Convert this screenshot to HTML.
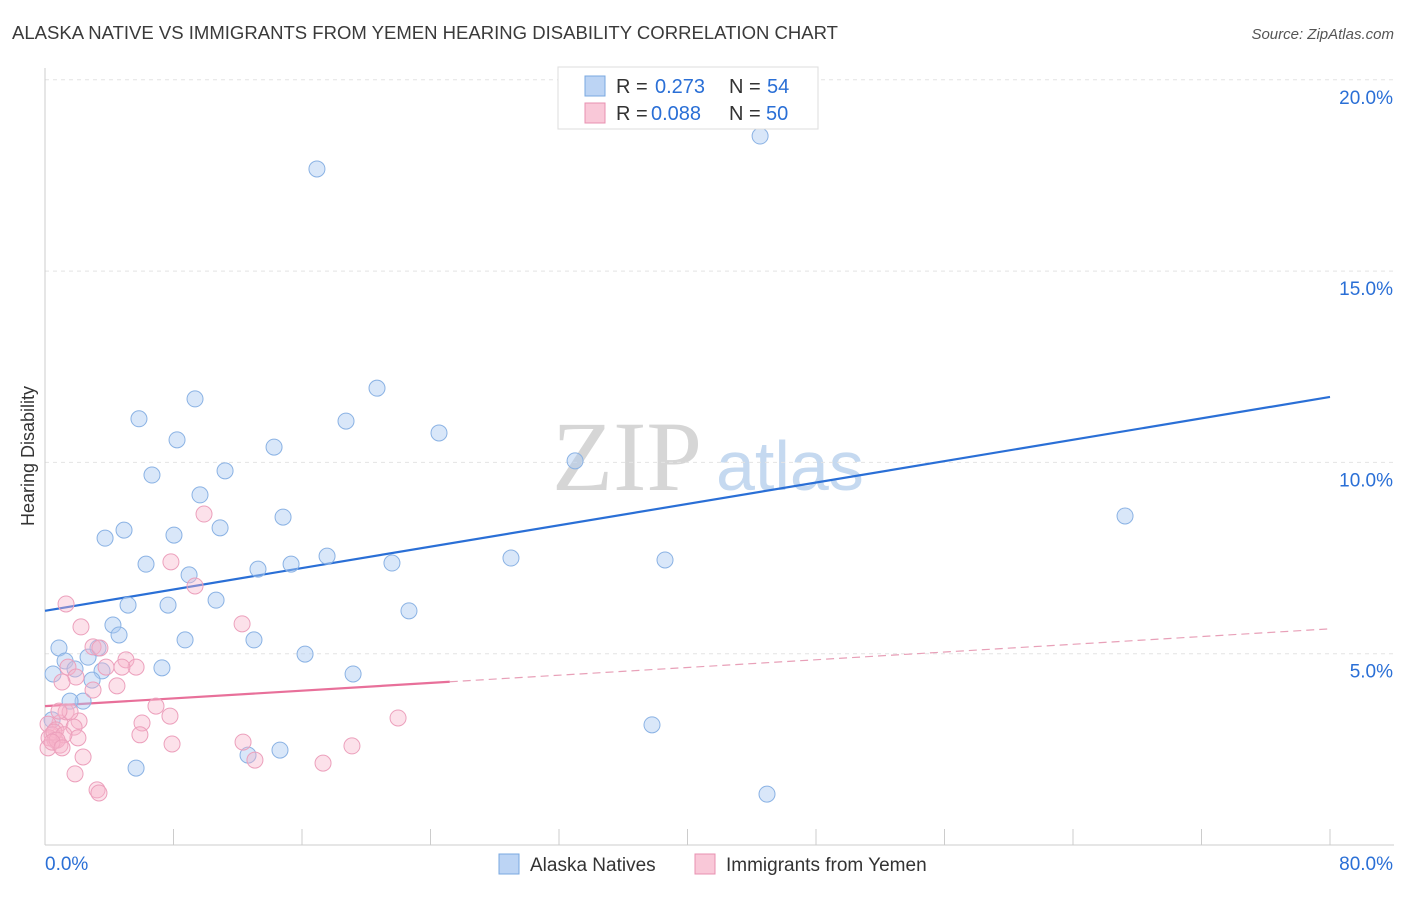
<!DOCTYPE html>
<html><head><meta charset="utf-8"><style>
body{margin:0;background:#fff;font-family:"Liberation Sans",sans-serif;}
</style></head><body>
<svg id="chart" width="1406" height="892" xmlns="http://www.w3.org/2000/svg" font-family="Liberation Sans, sans-serif">
<text x="12" y="39" font-size="18" fill="#3a3a3a" textLength="826" lengthAdjust="spacingAndGlyphs">ALASKA NATIVE VS IMMIGRANTS FROM YEMEN HEARING DISABILITY CORRELATION CHART</text>
<text x="1394" y="39" font-size="15" fill="#555" text-anchor="end" font-style="italic">Source: ZipAtlas.com</text>
<g>
<text x="552" y="490" font-size="100" fill="#d6d6d6" style="font-family:'Liberation Serif',serif">ZIP</text>
<text x="716" y="490" font-size="70" fill="#c5d9f0">atlas</text>
</g>
<g id="grid"></g>
<g id="axes"></g>
<g id="lines"></g>
<g id="pts"></g>
<text transform="translate(34,456) rotate(-90)" font-size="18" fill="#333" text-anchor="middle">Hearing Disability</text>
<g>
<rect x="558" y="67" width="260" height="62" fill="#fff" stroke="#ddd"/>
<rect x="585" y="76" width="20" height="20" fill="#bcd4f4" stroke="#7aa8e0"/>
<rect x="585" y="103" width="20" height="20" fill="#f9c8d8" stroke="#e890b0"/>
<text x="616" y="93" font-size="20" fill="#333">R =</text>
<text x="655" y="93" font-size="20" fill="#2a6fd6">0.273</text>
<text x="729" y="93" font-size="20" fill="#333">N =</text>
<text x="767" y="93" font-size="20" fill="#2a6fd6">54</text>
<text x="616" y="120" font-size="20" fill="#333">R =</text>
<text x="651" y="120" font-size="20" fill="#2a6fd6">0.088</text>
<text x="729" y="120" font-size="20" fill="#333">N =</text>
<text x="766" y="120" font-size="20" fill="#2a6fd6">50</text>
</g>
<g>
<rect x="499" y="854" width="20" height="20" fill="#bcd4f4" stroke="#7aa8e0"/>
<text x="530" y="871" font-size="19" fill="#333">Alaska Natives</text>
<rect x="695" y="854" width="20" height="20" fill="#f9c8d8" stroke="#e890b0"/>
<text x="726" y="871" font-size="19" fill="#333">Immigrants from Yemen</text>
</g>
</svg>
<script>
const blueX=[16.93,44.52,20.67,9.34,5.85,18.74,8.22,24.53,14.26,33.0,6.66,11.21,9.65,14.82,67.24,4.92,3.74,10.90,8.03,6.29,13.26,15.32,17.56,21.6,29.01,38.6,8.97,5.17,7.66,10.65,22.66,4.23,4.61,8.72,13.01,0.87,3.30,1.25,2.68,16.19,0.50,1.87,3.55,7.28,19.18,2.93,2.37,1.56,0.44,37.79,12.64,14.63,5.67,44.95];
const blueY=[17.67,18.53,11.94,11.66,11.14,11.08,10.59,10.77,10.40,10.04,9.67,9.78,9.15,8.57,8.60,8.23,8.02,8.29,8.10,7.34,7.21,7.34,7.55,7.37,7.50,7.45,7.06,6.27,6.27,6.40,6.12,5.75,5.49,5.36,5.36,5.15,5.15,4.81,4.91,4.99,4.47,4.60,4.55,4.63,4.47,4.31,3.76,3.76,3.27,3.14,2.35,2.48,2.01,1.33];
const pinkX=[1.31,9.90,7.84,9.34,2.24,12.27,2.99,3.42,5.04,5.67,3.80,4.79,1.43,1.93,1.06,4.48,2.99,6.91,7.78,21.98,6.04,2.12,0.93,1.81,0.19,0.68,0.44,1.31,1.56,0.87,5.91,2.05,0.25,0.62,12.33,7.91,0.93,19.11,0.19,2.37,13.07,17.31,1.87,3.24,3.36,0.56,1.18,0.75,0.44,1.06];
const pinkY=[6.30,8.65,7.40,6.77,5.70,5.78,5.18,5.15,4.84,4.65,4.65,4.65,4.65,4.39,4.26,4.16,4.05,3.63,3.37,3.32,3.19,3.24,3.19,3.08,3.16,3.01,2.88,3.48,3.48,3.50,2.88,2.80,2.80,2.74,2.69,2.64,2.61,2.59,2.54,2.30,2.22,2.14,1.86,1.44,1.36,2.95,2.88,2.74,2.69,2.54];
const yTicks=[5,10,15,20];
const yTickLabels=["5.0%","10.0%","15.0%","20.0%"];
const xTicks=[0,8,16,24,32,40,48,56,64,72,80];
const blueFit=[6.12,11.71];
const pinkFit=[3.63,5.65];
const pinkSolidEnd=25.2;

const NS="http://www.w3.org/2000/svg";
const X=v=>45+v/80*1285;
const Y=v=>845-v/5*191.3;
function mk(tag,attrs,parent){const e=document.createElementNS(NS,tag);for(const k in attrs)e.setAttribute(k,attrs[k]);document.getElementById(parent).appendChild(e);return e;}
yTicks.forEach((t,i)=>{
  const g=mk('line',{x1:45,x2:1394,y1:Y(t),y2:Y(t),stroke:'#e4e4e4','stroke-dasharray':'4,4'},'grid');
  
  
  const l=mk('text',{x:1393,y:Y(t)+24,'font-size':19,fill:'#2a6fd6','text-anchor':'end'},'axes');
  l.textContent=yTickLabels[i];
  
  
});
let ax=mk('line',{x1:45,x2:45,y1:68,y2:845,stroke:'#ccc'},'axes');


ax=mk('line',{x1:45,x2:1394,y1:845,y2:845,stroke:'#ccc'},'axes');


xTicks.forEach(t=>{
  const e=mk('line',{x1:X(t),x2:X(t),y1:829,y2:845,stroke:'#ccc'},'axes');
  
  
});
let t0=mk('text',{x:45,y:870,'font-size':19,fill:'#2a6fd6'},'axes');t0.textContent='0.0%';


t0=mk('text',{x:1393,y:870,'font-size':19,fill:'#2a6fd6','text-anchor':'end'},'axes');t0.textContent='80.0%';


function pts(xs,ys,fill,stroke,name){xs.forEach((x,i)=>{
  const c=mk('circle',{cx:X(x),cy:Y(ys[i]),r:8,fill:fill,stroke:stroke,'stroke-width':1},'pts');
  
  
});}
pts(blueX,blueY,'rgba(170,202,242,0.45)','#8ab2e4','alaska-native-point');
pts(pinkX,pinkY,'rgba(247,180,202,0.4)','#eca0bc','yemen-point');
const lerp=(f,x)=>f[0]+(f[1]-f[0])*x/80;
let ln=mk('line',{x1:X(0),y1:Y(blueFit[0]),x2:X(80),y2:Y(blueFit[1]),stroke:'#2a6fd6','stroke-width':2.2},'lines');


ln=mk('line',{x1:X(0),y1:Y(pinkFit[0]),x2:X(pinkSolidEnd),y2:Y(lerp(pinkFit,pinkSolidEnd)),stroke:'#e8709a','stroke-width':2.2},'lines');


ln=mk('line',{x1:X(pinkSolidEnd),y1:Y(lerp(pinkFit,pinkSolidEnd)),x2:X(80),y2:Y(pinkFit[1]),stroke:'#e8a0b8','stroke-width':1.2,'stroke-dasharray':'8,5'},'lines');


</script>
</body></html>
